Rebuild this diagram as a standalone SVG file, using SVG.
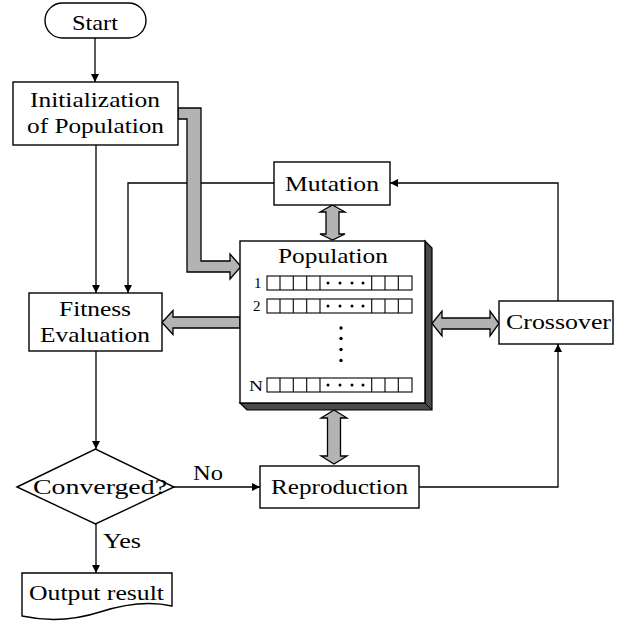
<svg xmlns="http://www.w3.org/2000/svg" width="619" height="625" viewBox="0 0 619 625">
<defs>
<style>
.box{fill:#fff;stroke:#000;stroke-width:1.4}
.ln{fill:none;stroke:#000;stroke-width:1.3}
.ga{fill:#b3b3b3;stroke:#000;stroke-width:1.3;stroke-linejoin:miter}
.t{font-family:"Liberation Serif","Times New Roman",serif;font-size:22px;fill:#000}
.s{font-family:"Liberation Serif","Times New Roman",serif;font-size:15px;fill:#000}
.cell{fill:#fff;stroke:#000;stroke-width:1.1}
</style>
<marker id="ah" viewBox="0 0 10 10" refX="10" refY="5" markerWidth="9" markerHeight="8" markerUnits="userSpaceOnUse" orient="auto">
<path d="M0,0 L10,5 L0,10 Z" fill="#000"/>
</marker>
</defs>
<rect width="619" height="625" fill="#fff"/>

<g id="connectors">
<path class="ln" d="M95,38 V82" marker-end="url(#ah)"/>
<path class="ln" d="M96,145 V293" marker-end="url(#ah)"/>
<path class="ln" d="M274,183 H128 V293" marker-end="url(#ah)"/>
<path class="ln" d="M96,351 V449" marker-end="url(#ah)"/>
<path class="ln" d="M173,487 H260" marker-end="url(#ah)"/>
<path class="ln" d="M96,524 V573" marker-end="url(#ah)"/>
<path class="ln" d="M419,487 H558 V344" marker-end="url(#ah)"/>
<path class="ln" d="M558,301 V183 H390" marker-end="url(#ah)"/>
<text class="t" x="193" y="480" textLength="30" lengthAdjust="spacingAndGlyphs">No</text>
<text class="t" x="103" y="548" textLength="38" lengthAdjust="spacingAndGlyphs">Yes</text>
<polygon class="ga" points="178,108 201,108 201,261 230,261 230,254 241,266.5 230,279 230,272 187,272 187,119 178,119"/>
<polygon class="ga" points="332.5,205 345,212 339,212 339,234 345,234 332.5,240 320,234 326,234 326,212 320,212"/>
<polygon class="ga" points="334,410 347,418 340.5,418 340.5,456 347,456 334,464 321,456 327.5,456 327.5,418 321,418"/>
<polygon class="ga" points="162,322.5 173,310.5 173,317 240,317 240,328 173,328 173,334.5"/>
<polygon class="ga" points="432,323.5 442,311 442,318 490,318 490,311 499,323.5 490,336 490,329 442,329 442,336"/>
</g>

<g id="start">
<rect class="box" x="45" y="3" width="101" height="35" rx="17.5"/>
<text class="t" x="72" y="30" textLength="46" lengthAdjust="spacingAndGlyphs">Start</text>
</g>

<g id="init">
<rect class="box" x="13" y="82" width="165" height="63"/>
<text class="t" x="30" y="107" textLength="130" lengthAdjust="spacingAndGlyphs">Initialization</text>
<text class="t" x="27" y="133" textLength="137" lengthAdjust="spacingAndGlyphs">of Population</text>
</g>

<g id="mutation">
<rect class="box" x="274" y="162" width="116" height="43"/>
<text class="t" x="285" y="191" textLength="94" lengthAdjust="spacingAndGlyphs">Mutation</text>
</g>

<g id="population">
<polygon points="425,241 432,248 432,410 247,410 240,403 425,403" fill="#4a4a4a" stroke="#000" stroke-width="1.2"/>
<line x1="425" y1="403" x2="432" y2="410" stroke="#000" stroke-width="1"/>
<rect class="box" x="240" y="241" width="185" height="162" stroke-width="1.6"/>
<text class="t" x="278" y="263" textLength="110" lengthAdjust="spacingAndGlyphs">Population</text>
<g id="row1">
<text class="s" x="254" y="288">1</text>
<rect class="cell" x="267" y="276" width="145" height="14"/>
<path d="M280,276V290M293.3,276V290M306.7,276V290M320,276V290M371.7,276V290M385,276V290M398.3,276V290" stroke="#000" stroke-width="1.1"/>
<g fill="#000"><circle cx="328" cy="283" r="1.5"/><circle cx="340" cy="283" r="1.5"/><circle cx="352" cy="283" r="1.5"/><circle cx="363" cy="283" r="1.5"/></g>
</g>
<g id="row2">
<text class="s" x="253" y="311">2</text>
<rect class="cell" x="267" y="299" width="145" height="14"/>
<path d="M280,299V313M293.3,299V313M306.7,299V313M320,299V313M371.7,299V313M385,299V313M398.3,299V313" stroke="#000" stroke-width="1.1"/>
<g fill="#000"><circle cx="328" cy="306" r="1.5"/><circle cx="340" cy="306" r="1.5"/><circle cx="352" cy="306" r="1.5"/><circle cx="363" cy="306" r="1.5"/></g>
</g>
<g fill="#000"><circle cx="341" cy="328" r="1.7"/><circle cx="341" cy="338.5" r="1.7"/><circle cx="341" cy="349.5" r="1.7"/><circle cx="341" cy="360.5" r="1.7"/></g>
<g id="rowN">
<text class="s" x="249" y="391" textLength="14" lengthAdjust="spacingAndGlyphs">N</text>
<rect class="cell" x="267" y="378" width="145" height="14"/>
<path d="M280,378V392M293.3,378V392M306.7,378V392M320,378V392M371.7,378V392M385,378V392M398.3,378V392" stroke="#000" stroke-width="1.1"/>
<g fill="#000"><circle cx="328" cy="385" r="1.5"/><circle cx="340" cy="385" r="1.5"/><circle cx="352" cy="385" r="1.5"/><circle cx="363" cy="385" r="1.5"/></g>
</g>
</g>

<g id="fitness">
<rect class="box" x="29" y="293" width="133" height="58"/>
<text class="t" x="59" y="316" textLength="72" lengthAdjust="spacingAndGlyphs">Fitness</text>
<text class="t" x="40" y="342" textLength="110" lengthAdjust="spacingAndGlyphs">Evaluation</text>
</g>

<g id="crossover">
<rect class="box" x="499" y="301" width="114" height="43"/>
<text class="t" x="506" y="329" textLength="105" lengthAdjust="spacingAndGlyphs">Crossover</text>
</g>

<g id="converged">
<polygon class="box" points="17,487 95.5,449 174,487 95.5,524"/>
<text class="t" x="33" y="494" textLength="134" lengthAdjust="spacingAndGlyphs">Converged?</text>
</g>

<g id="reproduction">
<rect class="box" x="260" y="466" width="159" height="42"/>
<text class="t" x="271" y="494" textLength="137" lengthAdjust="spacingAndGlyphs">Reproduction</text>
</g>

<g id="output">
<path class="box" d="M22,573 H172 V606 C150,601 128,603 100,612 C72,621 45,621 22,616 Z"/>
<text class="t" x="29" y="600" textLength="135" lengthAdjust="spacingAndGlyphs">Output result</text>
</g>
</svg>
